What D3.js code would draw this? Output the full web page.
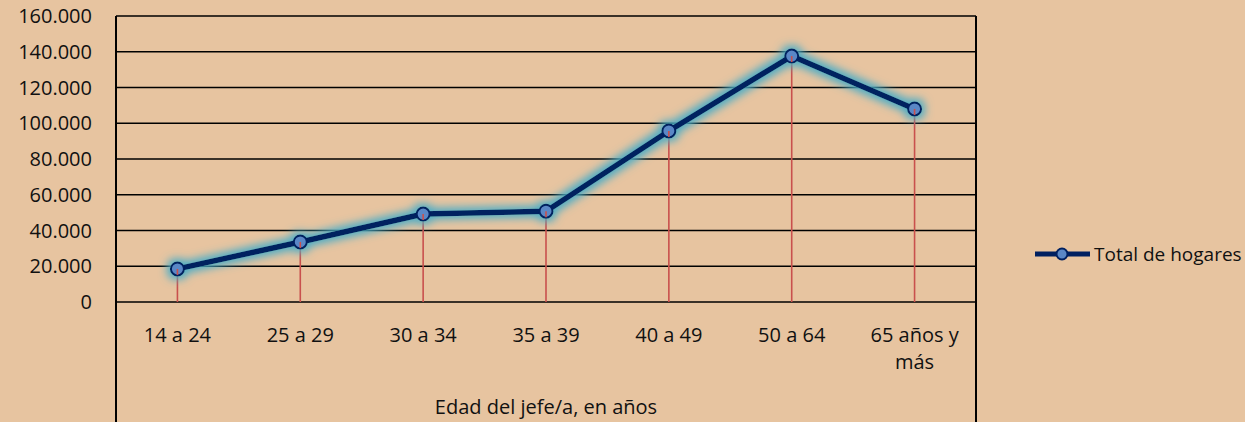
<!DOCTYPE html>
<html><head><meta charset="utf-8">
<script src="https://cdn.jsdelivr.net/npm/d3@7"></script>
<style>
html,body{margin:0;padding:0;background:#E7C4A0;}
text{font-family:"Open Sans","Noto Sans",sans-serif;fill:#111;}
</style></head>
<body>
<svg id="c" width="1245" height="422"></svg>
<script>
const categories = [["14 a 24"],["25 a 29"],["30 a 34"],["35 a 39"],["40 a 49"],["50 a 64"],["65 años y","más"]];
const values = [18500, 33600, 49200, 50800, 95700, 137600, 108000];
const yTicks = [0,20000,40000,60000,80000,100000,120000,140000,160000];
const seriesName = "Total de hogares";
const axisTitle = "Edad del jefe/a, en años";

const W=1245,H=422;
const L=116,R=976,T=16,B=302;
const svg=d3.select("#c");
svg.append("rect").attr("width",W).attr("height",H).attr("fill","#E7C4A0");

const x=d3.scaleBand().domain(d3.range(categories.length)).range([L,R]).padding(0);
const y=d3.scaleLinear().domain([0,160000]).range([B,T]);
const fmt=v=>v===0?"0":d3.format(",")(v).replace(/,/g,".");

const defs=svg.append("defs");
const f=defs.append("filter").attr("id","glow").attr("x","-20%").attr("y","-20%").attr("width","140%").attr("height","140%");
f.append("feMorphology").attr("in","SourceAlpha").attr("operator","dilate").attr("radius",3).attr("result","d");
f.append("feGaussianBlur").attr("in","d").attr("stdDeviation",4).attr("result","b");
f.append("feFlood").attr("flood-color","#4BACC6").attr("flood-opacity",1);
f.append("feComposite").attr("in2","b").attr("operator","in").attr("result","g");
const m=f.append("feMerge");m.append("feMergeNode").attr("in","g");m.append("feMergeNode").attr("in","SourceGraphic");

// gridlines
svg.append("g").selectAll("line").data(yTicks).join("line")
 .attr("x1",L).attr("x2",R).attr("y1",d=>y(d)).attr("y2",d=>y(d))
 .attr("stroke","#000").attr("stroke-width",1.6);
// box verticals
svg.append("line").attr("x1",L).attr("x2",L).attr("y1",T).attr("y2",H).attr("stroke","#000").attr("stroke-width",2);
svg.append("line").attr("x1",R).attr("x2",R).attr("y1",T).attr("y2",H).attr("stroke","#000").attr("stroke-width",2);

// y labels
svg.append("g").selectAll("text").data(yTicks).join("text")
 .attr("x",L-24).attr("y",d=>y(d)).attr("dy","0.36em").attr("text-anchor","end")
 .attr("font-size",20).text(fmt);

// x labels
const xl=svg.append("g").selectAll("text").data(categories).join("text")
 .attr("text-anchor","middle").attr("font-size",20)
 .attr("transform",(d,i)=>`translate(${x(i)+x.bandwidth()/2},342)`);
xl.selectAll("tspan").data(d=>d).join("tspan").attr("x",0).attr("dy",(d,j)=>j===0?0:27).text(d=>d);

svg.append("text").attr("x",(L+R)/2).attr("y",414).attr("text-anchor","middle").attr("font-size",20).text(axisTitle);

// drop lines
const cx=i=>x(i)+x.bandwidth()/2;
svg.append("g").selectAll("line").data(values).join("line")
 .attr("x1",(d,i)=>cx(i)).attr("x2",(d,i)=>cx(i)).attr("y1",d=>y(d)).attr("y2",y(0))
 .attr("stroke","#C9504D").attr("stroke-width",1.6);

// series
const g=svg.append("g").attr("filter","url(#glow)");
g.append("path").datum(values).attr("fill","none").attr("stroke","#002060").attr("stroke-width",5.5)
 .attr("stroke-linejoin","round")
 .attr("d",d3.line().x((d,i)=>cx(i)).y(d=>y(d)));
g.selectAll("circle").data(values).join("circle")
 .attr("cx",(d,i)=>cx(i)).attr("cy",d=>y(d)).attr("r",6.5)
 .attr("fill","#5A87C6").attr("stroke","#002060").attr("stroke-width",2);
// drop lines visible inside marker
svg.append("g").selectAll("line").data(values).join("line")
 .attr("x1",(d,i)=>cx(i)).attr("x2",(d,i)=>cx(i)).attr("y1",d=>y(d)).attr("y2",d=>y(d)+6)
 .attr("stroke","#C9504D").attr("stroke-width",1.6);

// legend
const lg=svg.append("g");
lg.append("line").attr("x1",1035).attr("x2",1090).attr("y1",254).attr("y2",254).attr("stroke","#002060").attr("stroke-width",5);
lg.append("circle").attr("cx",1062).attr("cy",254).attr("r",5.5).attr("fill","#5A87C6").attr("stroke","#002060").attr("stroke-width",2);
lg.append("text").attr("x",1094).attr("y",254).attr("dy","0.36em").attr("font-size",19).text(seriesName);
</script>
</body></html>
